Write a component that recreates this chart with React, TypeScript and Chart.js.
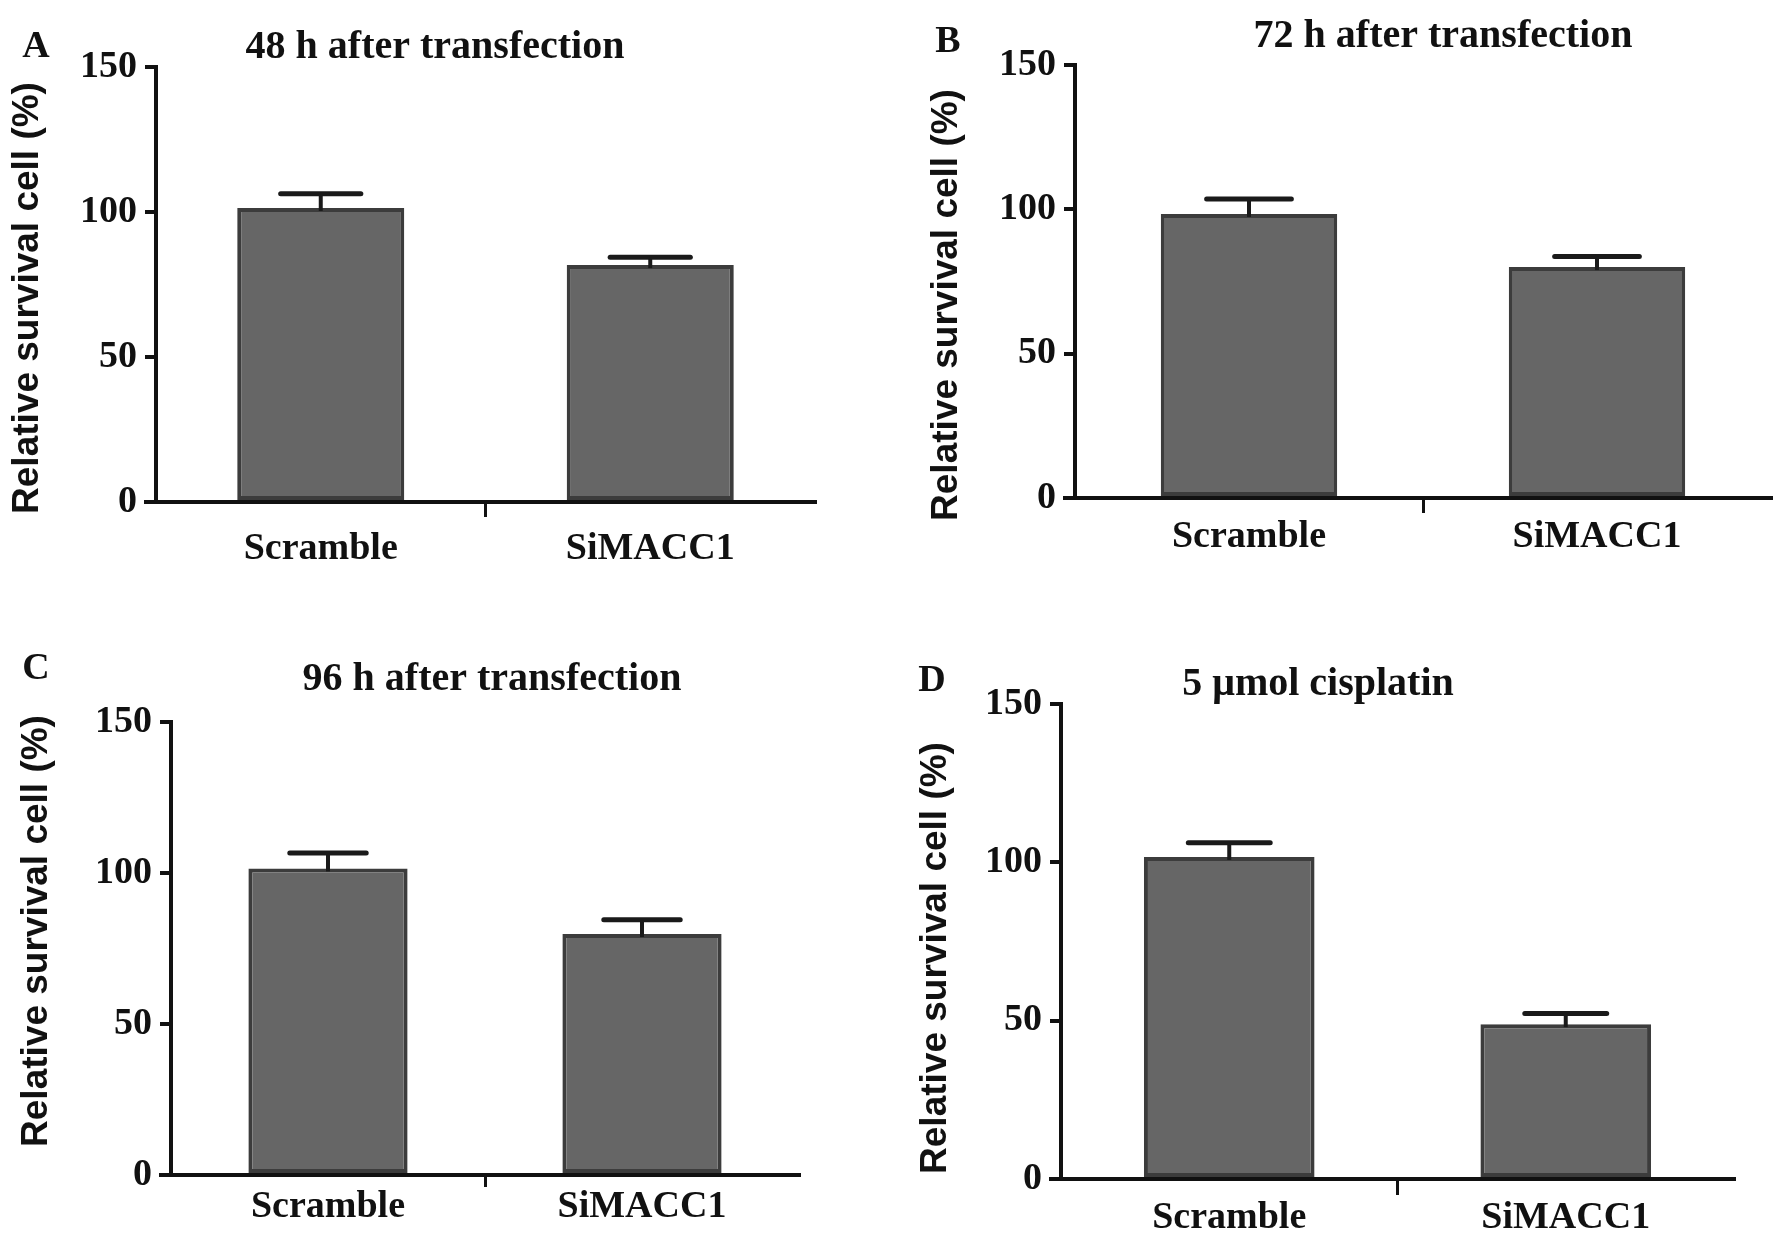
import React, { useEffect, useRef } from 'react';
import { Chart, registerables } from 'chart.js';

Chart.register(...registerables);

// categories and labels
const categories = ['Scramble', 'SiMACC1'];
const panelLetters = ['A', 'B', 'C', 'D'];
const panelTitles = [
  '48 h after transfection',
  '72 h after transfection',
  '96 h after transfection',
  '5 μmol cisplatin',
];
const yAxisTitle = 'Relative survival cell (%)';
const yTickMin = 0;
const yTickMax = 150;
const yTickStep = 50;

// values (mean, upper error)
const means48h = [101.4, 81.7];
const errors48h = [4.9, 2.7];
const means72h = [98.4, 80.0];
const errors72h = [5.2, 3.7];
const means96h = [101.5, 79.8];
const errors96h = [5.1, 4.7];
const meansCisplatin = [101.7, 48.9];
const errorsCisplatin = [4.5, 3.4];

const SERIF = "'Liberation Serif', 'Times New Roman', serif";
const SANS = "'Liberation Sans', Arial, sans-serif";
const INK = '#111111';

interface PanelLayout {
  left: number;
  top: number;
  width: number;
  height: number;
  axisX: number;
  axisTop: number;
  axisBottom: number;
  axisRight: number;
  xTickLength: number;
  xLabelPad: number;
  letterPos: [number, number];
  titlePos: [number, number];
  yTitlePos: [number, number];
}

// page positions of each panel (pixels)
const layouts: PanelLayout[] = [
  {
    left: 0, top: 0, width: 890, height: 621,
    axisX: 156, axisTop: 67, axisBottom: 502, axisRight: 815,
    xTickLength: 15, xLabelPad: 9,
    letterPos: [36, 47], titlePos: [435, 48], yTitlePos: [28, 298],
  },
  {
    left: 890, top: 0, width: 890, height: 621,
    axisX: 1075, axisTop: 65, axisBottom: 498, axisRight: 1771,
    xTickLength: 15, xLabelPad: 1,
    letterPos: [948, 42], titlePos: [1443, 37], yTitlePos: [947, 305],
  },
  {
    left: 0, top: 621, width: 890, height: 622,
    axisX: 171, axisTop: 722, axisBottom: 1175, axisRight: 799,
    xTickLength: 12, xLabelPad: -3,
    letterPos: [36, 669], titlePos: [492, 680], yTitlePos: [37, 931],
  },
  {
    left: 890, top: 621, width: 890, height: 622,
    axisX: 1061, axisTop: 704, axisBottom: 1179, axisRight: 1734,
    xTickLength: 16, xLabelPad: 0,
    letterPos: [932, 681], titlePos: [1318, 685], yTitlePos: [936, 958],
  },
];

interface PanelProps {
  layout: PanelLayout;
  letter: string;
  title: string;
  means: number[];
  errors: number[];
}

const Panel: React.FC<PanelProps> = ({ layout, letter, title, means, errors }) => {
  const canvasRef = useRef<HTMLCanvasElement>(null);
  const chartRef = useRef<Chart | null>(null);

  useEffect(() => {
    if (!canvasRef.current) return;
    if (chartRef.current) chartRef.current.destroy();

    const L = layout;

    // error bars, panel letter, title, y axis title
    const decor = {
      id: 'panelDecor',
      afterDatasetsDraw(chart: Chart) {
        const { ctx } = chart;
        const yScale = chart.scales.y;
        const meta = chart.getDatasetMeta(0);
        ctx.save();
        ctx.strokeStyle = '#1a1a1a';
        meta.data.forEach((bar: any, i: number) => {
          const { x, width } = bar.getProps(['x', 'width'], true);
          const yVal = yScale.getPixelForValue(means[i]);
          const yErr = yScale.getPixelForValue(means[i] + errors[i]);
          ctx.lineWidth = 4;
          ctx.lineCap = 'butt';
          ctx.beginPath();
          ctx.moveTo(x, yVal + 3);
          ctx.lineTo(x, yErr);
          ctx.stroke();
          ctx.lineWidth = 5;
          ctx.lineCap = 'round';
          ctx.beginPath();
          ctx.moveTo(x - width * 0.24, yErr);
          ctx.lineTo(x + width * 0.24, yErr);
          ctx.stroke();
        });
        ctx.restore();
      },
      afterDraw(chart: Chart) {
        const { ctx, chartArea } = chart;
        const yScale = chart.scales.y;
        ctx.save();
        // x axis line runs on to the left under the y ticks
        const y0 = yScale.getPixelForValue(0);
        ctx.strokeStyle = INK;
        ctx.lineWidth = 4;
        ctx.beginPath();
        ctx.moveTo(chartArea.left - 12, y0);
        ctx.lineTo(chartArea.left, y0);
        ctx.stroke();

        ctx.fillStyle = INK;
        ctx.textAlign = 'center';
        ctx.textBaseline = 'middle';
        ctx.font = `bold 38px ${SERIF}`;
        ctx.fillText(letter, L.letterPos[0] - L.left, L.letterPos[1] - L.top);
        ctx.font = `bold 40px ${SERIF}`;
        ctx.fillText(title, L.titlePos[0] - L.left, L.titlePos[1] - L.top);

        ctx.translate(L.yTitlePos[0] - L.left, L.yTitlePos[1] - L.top);
        ctx.rotate(-Math.PI / 2);
        ctx.font = `bold 37px ${SANS}`;
        ctx.fillText(yAxisTitle, 0, 0);
        ctx.restore();
      },
    };

    chartRef.current = new Chart(canvasRef.current, {
      type: 'bar',
      data: {
        labels: categories,
        datasets: [
          {
            data: means,
            backgroundColor: '#666666',
            borderColor: '#3c3c3c',
            borderWidth: 4,
            borderSkipped: false,
            categoryPercentage: 1,
            barPercentage: 0.507,
          },
        ],
      },
      options: {
        animation: false,
        responsive: true,
        maintainAspectRatio: false,
        layout: {
          padding: {
            left: 0,
            top: L.axisTop - L.top,
            right: L.left + L.width - L.axisRight,
            bottom: 0,
          },
        },
        plugins: {
          legend: { display: false },
          tooltip: { enabled: false },
          title: { display: false },
        },
        scales: {
          x: {
            offset: true,
            grid: {
              offset: true,
              drawOnChartArea: false,
              drawTicks: true,
              tickLength: L.xTickLength,
              lineWidth: 3,
              color: (c: any) => (c.index === 1 ? INK : 'rgba(0,0,0,0)'),
            },
            border: { display: true, color: INK, width: 4 },
            ticks: {
              color: INK,
              font: { family: SERIF, size: 38, weight: 'bold' },
              padding: L.xLabelPad,
              maxRotation: 0,
              autoSkip: false,
            },
            afterFit: (scale: any) => {
              scale.height = L.top + L.height - L.axisBottom;
            },
          },
          y: {
            min: yTickMin,
            max: yTickMax,
            grid: {
              drawOnChartArea: false,
              drawTicks: true,
              tickLength: 11,
              lineWidth: 4,
              color: INK,
            },
            border: { display: true, color: INK, width: 4 },
            ticks: {
              stepSize: yTickStep,
              color: INK,
              font: { family: SERIF, size: 38, weight: 'bold' },
              padding: 8,
            },
            afterFit: (scale: any) => {
              scale.width = L.axisX - L.left;
            },
          },
        },
      },
      plugins: [decor],
    });

    return () => {
      if (chartRef.current) {
        chartRef.current.destroy();
        chartRef.current = null;
      }
    };
  }, [layout, letter, title, means, errors]);

  return (
    <div
      style={{
        position: 'absolute',
        left: layout.left,
        top: layout.top,
        width: layout.width,
        height: layout.height,
      }}
    >
      <canvas ref={canvasRef} />
    </div>
  );
};

const seriesMeans = [means48h, means72h, means96h, meansCisplatin];
const seriesErrors = [errors48h, errors72h, errors96h, errorsCisplatin];

export default function App() {
  return (
    <div
      style={{
        position: 'absolute',
        left: 0,
        top: 0,
        width: 1780,
        height: 1243,
        background: '#ffffff',
        overflow: 'hidden',
      }}
    >
      {layouts.map((layout, i) => (
        <Panel
          key={panelLetters[i]}
          layout={layout}
          letter={panelLetters[i]}
          title={panelTitles[i]}
          means={seriesMeans[i]}
          errors={seriesErrors[i]}
        />
      ))}
    </div>
  );
}
